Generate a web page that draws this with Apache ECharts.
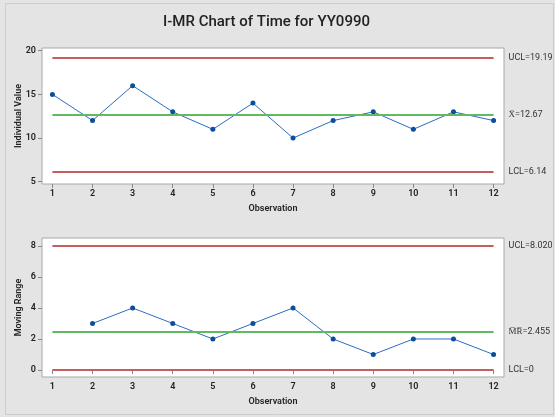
<!DOCTYPE html>
<html>
<head>
<meta charset="utf-8">
<script src="https://cdn.jsdelivr.net/npm/echarts@6/dist/echarts.min.js"></script>
<style>html,body{margin:0;padding:0;background:#e4e4e4;}#c{width:555px;height:417px;}</style>
</head>
<body>
<div id="c"></div>
<script>
var observations = [1,2,3,4,5,6,7,8,9,10,11,12];
var individualValues = [15,12,16,13,11,14,10,12,13,11,13,12];
var movingRanges = [null,3,4,3,2,3,4,2,1,2,2,1];
var iLimits = {ucl: 19.19, center: 12.67, lcl: 6.14};
var mrLimits = {ucl: 8.020, center: 2.455, lcl: 0};
var iTicks = [5,10,15,20];
var mrTicks = [0,2,4,6,8];
var iLabels = ['UCL=19.19', 'X\u0304=12.67', 'LCL=6.14'];
var mrLabels = ['UCL=8.020', 'M\u0305R\u0305=2.455', 'LCL=0'];

var FONT = 'Roboto';
var RED = '#c65e5e', GREEN = '#63b863', BLUE = '#2a6dc2', DOT = '#0b4f9c';

function pairs(xs, ys){
  var out = [];
  for (var i = 0; i < xs.length; i++) if (ys[i] !== null) out.push([xs[i], ys[i]]);
  return out;
}
function ctrl(v, label, color){
  return {
    lineStyle: {color: color, width: 2, type: 'solid'},
    label: {show: true, position: 'end', formatter: label, color: '#333', fontFamily: FONT, fontSize: 9, distance: 15},
    coords: [{xAxis: observations[0], yAxis: v}, {xAxis: observations[observations.length-1], yAxis: v}]
  };
}
function markLines(lim, labels){
  var items = [ctrl(lim.ucl, labels[0], RED), ctrl(lim.center, labels[1], GREEN), ctrl(lim.lcl, labels[2], RED)];
  return {
    silent: true, symbol: 'none', animation: false,
    data: items.map(function(it){
      return [
        {coord: [it.coords[0].xAxis, it.coords[0].yAxis], lineStyle: it.lineStyle, label: it.label},
        {coord: [it.coords[1].xAxis, it.coords[1].yAxis]}
      ];
    })
  };
}
function xAxis(idx){
  return {
    type: 'value', gridIndex: idx, min: 0.74, max: 12.26,
    name: 'Observation', nameLocation: 'middle', nameGap: 20, nameMoveOverlap: false,
    nameTextStyle: {fontFamily: FONT, fontSize: 9, fontWeight: 600, color: '#222'},
    axisLine: {show: false},
    axisTick: {show: true, length: 4, lineStyle: {color: '#888'}, customValues: observations},
    axisLabel: {customValues: observations, fontFamily: FONT, fontSize: 9, fontWeight: 600, color: '#222', margin: 5},
    splitLine: {show: false}
  };
}
function yAxis(idx, name, min, max, ticks){
  return {
    type: 'value', gridIndex: idx, min: min, max: max,
    name: name, nameLocation: 'middle', nameGap: 19, nameMoveOverlap: false,
    nameTextStyle: {fontFamily: FONT, fontSize: 9, fontWeight: 600, color: '#222'},
    axisLine: {show: false},
    axisTick: {show: true, length: 4, lineStyle: {color: '#888'}, customValues: ticks},
    axisLabel: {customValues: ticks, fontFamily: FONT, fontSize: 9, fontWeight: 600, color: '#222', margin: 6},
    splitLine: {show: false}
  };
}

var chart = echarts.init(document.getElementById('c'), null, {renderer: 'canvas'});
chart.setOption({
  backgroundColor: '#e4e4e4',
  animation: false,
  title: {
    text: 'I-MR Chart of Time for YY0990', left: 158, top: 10,
    textStyle: {fontFamily: FONT, fontSize: 15, fontWeight: 500, color: '#222'}
  },
  graphic: [{
    type: 'rect', shape: {x: 5.5, y: 3.5, width: 548, height: 411}, silent: true, z: -1,
    style: {fill: 'none', stroke: '#cdcdcd', lineWidth: 1}
  }],
  grid: [
    {left: 42, top: 48, width: 462, height: 136, show: true, backgroundColor: '#fff', borderColor: '#a8a8a8', borderWidth: 1},
    {left: 42, top: 238, width: 462, height: 139, show: true, backgroundColor: '#fff', borderColor: '#a8a8a8', borderWidth: 1}
  ],
  xAxis: [xAxis(0), xAxis(1)],
  yAxis: [
    yAxis(0, 'Individual Value', 4.74, 20.31, iTicks),
    yAxis(1, 'Moving Range', -0.45, 8.51, mrTicks)
  ],
  series: [
    {
      type: 'line', xAxisIndex: 0, yAxisIndex: 0, data: pairs(observations, individualValues),
      symbol: 'circle', symbolSize: 5, itemStyle: {color: DOT}, lineStyle: {color: BLUE, width: 1}, z: 3,
      markLine: markLines(iLimits, iLabels)
    },
    {
      type: 'line', xAxisIndex: 1, yAxisIndex: 1, data: pairs(observations, movingRanges),
      symbol: 'circle', symbolSize: 5, itemStyle: {color: DOT}, lineStyle: {color: BLUE, width: 1}, z: 3,
      markLine: markLines(mrLimits, mrLabels)
    }
  ]
});
</script>
</body>
</html>
